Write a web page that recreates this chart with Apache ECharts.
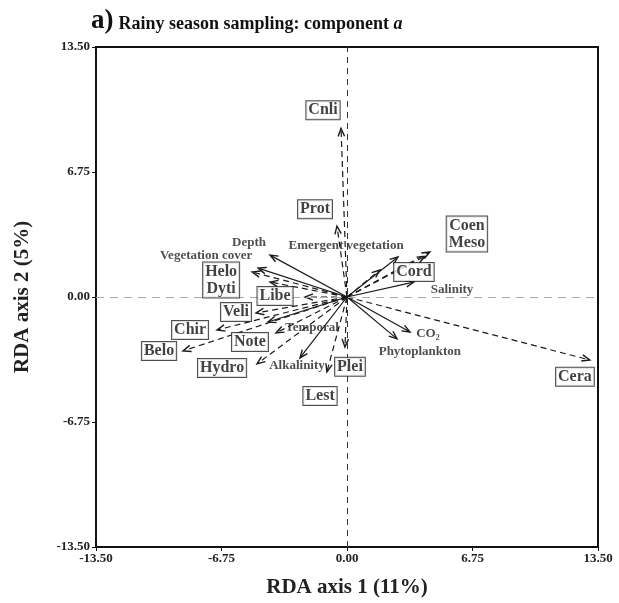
<!DOCTYPE html>
<html><head><meta charset="utf-8">
<script src="https://cdn.jsdelivr.net/npm/echarts@6/dist/echarts.min.js"></script>
<style>html,body{margin:0;padding:0;background:#fff}#c{width:619px;height:603px}</style>
</head><body><div id="c"></div>
<script>
// Axis ticks
const axisTicks = [-13.5, -6.75, 0, 6.75, 13.5];

// Species (dashed arrows)
const speciesNames = ['Cnli','Prot','Coen','Meso','Cord','Cera','Plei','Lest','Hydro','Note','Belo','Chir','Veli','Libe','Helo','Dyti'];
const speciesX = [-0.32,-0.54,4.46,4.2,1.77,13.06,-0.11,-1.08,-4.84,-3.82,-8.82,-6.99,-4.89,-2.26,-5.1,-4.14];
const speciesY = [9.11,3.83,2.43,2.2,1.46,-3.40,-2.70,-4.04,-3.61,-1.94,-2.91,-1.78,-0.86,0.0,1.35,0.81];

// Species label boxes (text and anchor in axis units)
const boxText = ['Cnli','Prot','Coen\nMeso','Cord','Cera','Plei','Lest','Hydro','Note','Belo','Chir','Veli','Libe','Helo\nDyti'];
const boxX = [-1.29,-1.72,6.45,3.60,12.26,0.16,-1.45,-6.72,-5.22,-10.11,-8.44,-5.97,-3.87,-6.77];
const boxY = [10.08,4.74,3.40,1.35,-4.31,-3.77,-5.34,-3.83,-2.43,-2.91,-1.78,-0.81,0.05,0.92];

// Environmental variables (solid arrows)
const envNames = ['Depth','Vegetation cover','Emergent vegetation','Salinity','CO\u2082','Phytoplankton','Alkalinity','Temporal'];
const envX = [-4.14,-4.78,2.74,3.6,3.39,2.69,-2.53,-4.25];
const envY = [2.26,1.56,2.16,0.81,-1.89,-2.26,-3.29,-1.35];
const envLabelX = [-5.27,-7.58,-0.05,5.65,4.35,3.92,-2.69,-1.88];
const envLabelY = [2.91,2.21,2.80,0.38,-2.0,-2.96,-3.72,-1.67];

const FONT = '"Liberation Serif","DejaVu Serif",serif';

function arrowSeries(xs, ys, dashed, lw){
  return {
    type:'custom', coordinateSystem:'cartesian2d', z:3, silent:true,
    data: xs.map((x,i)=>[x, ys[i]]),
    renderItem:(params, api)=>{
      const o = api.coord([0,0]);
      const t = api.coord([api.value(0), api.value(1)]);
      const dx=t[0]-o[0], dy=t[1]-o[1];
      const L=Math.hypot(dx,dy)||1; const ux=dx/L, uy=dy/L;
      const h=8, w=3.2;
      const bx=t[0]-ux*h, by=t[1]-uy*h;
      return {type:'group', children:[
        {type:'line', shape:{x1:o[0],y1:o[1],x2:t[0]-ux*1.5,y2:t[1]-uy*1.5},
          style:{stroke:'#1a1a1a', lineWidth:lw, lineDash: dashed?[6,4]:null}},
        {type:'polyline', shape:{points:[[bx-uy*w,by+ux*w],[t[0],t[1]],[bx+uy*w,by-ux*w]]},
          style:{stroke:'#1a1a1a', lineWidth:1.4, fill:null}}
      ]};
    }
  };
}

const chart = echarts.init(document.getElementById('c'), null, {renderer:'canvas'});
const axisLabelStyle = {fontFamily:FONT, fontWeight:'bold', fontSize:13, color:'#222', formatter:v=>v.toFixed(2)};
chart.setOption({
  backgroundColor:'#fff',
  animation:false,
  title:{
    text:'{a|a)} {b|Rainy season sampling: component }{c|a}',
    left:86, top:3,
    textStyle:{rich:{
      a:{fontFamily:FONT, fontWeight:'bold', fontSize:27, color:'#111'},
      b:{fontFamily:FONT, fontWeight:'bold', fontSize:18, color:'#111', padding:[6,0,0,0]},
      c:{fontFamily:FONT, fontWeight:'bold', fontStyle:'italic', fontSize:18, color:'#111', padding:[6,0,0,0]}
    }}
  },
  grid:{left:96, right:21, top:47, bottom:55, show:true, borderColor:'#111', borderWidth:2},
  xAxis:{
    type:'value', min:axisTicks[0], max:axisTicks[axisTicks.length-1], interval:6.75,
    axisLine:{show:true, onZero:false, lineStyle:{color:'#111', width:2}},
    axisTick:{show:true, length:4, lineStyle:{color:'#111'}},
    splitLine:{show:false},
    axisLabel:Object.assign({margin:5}, axisLabelStyle),
    name:'RDA axis 1 (11%)', nameLocation:'middle', nameGap:30,
    nameTextStyle:{fontFamily:FONT, fontWeight:'bold', fontSize:21, color:'#222'}
  },
  yAxis:{
    type:'value', min:axisTicks[0], max:axisTicks[axisTicks.length-1], interval:6.75,
    axisLine:{show:true, onZero:false, lineStyle:{color:'#111', width:2}},
    axisTick:{show:true, length:4, lineStyle:{color:'#111'}},
    splitLine:{show:false},
    axisLabel:Object.assign({margin:6}, axisLabelStyle),
    name:'RDA axis 2 (5%)', nameLocation:'middle', nameGap:63,
    nameTextStyle:{fontFamily:FONT, fontWeight:'bold', fontSize:21, color:'#222'}
  },
  series:[
    {
      type:'line', data:[], silent:true,
      markLine:{silent:true, symbol:'none', label:{show:false},
        data:[
          {xAxis:0, lineStyle:{type:[6,5], color:'#333', width:1}},
          {yAxis:0, lineStyle:{type:[8,6], color:'#aaa', width:1}}
        ]}
    },
    arrowSeries(speciesX, speciesY, true, 1.2),
    arrowSeries(envX, envY, false, 1.2),
    {
      type:'scatter', symbolSize:0, z:5, silent:true,
      data: boxText.map((t,i)=>({value:[boxX[i], boxY[i]], name:t})),
      label:{show:true, position:'inside', formatter:p=>p.name,
        fontFamily:FONT, fontWeight:'bold', fontSize:16, color:'#111', lineHeight:17,
        backgroundColor:'#fff', borderColor:'#222', borderWidth:1, padding:[1,2,0,2]}
    },
    {
      type:'scatter', symbolSize:0, z:4, silent:true,
      data: envNames.map((t,i)=>({value:[envLabelX[i], envLabelY[i]], name:t})),
      label:{show:true, position:'inside', formatter:p=>p.name,
        fontFamily:FONT, fontWeight:'bold', fontSize:13, color:'#222'}
    }
  ]
});
</script></body></html>
